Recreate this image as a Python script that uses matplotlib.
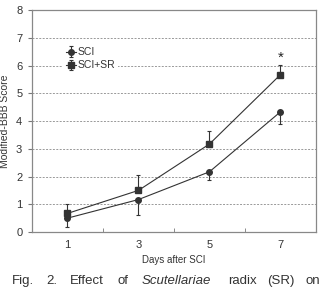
import matplotlib.pyplot as plt

# data
days = ["1", "3", "5", "7"]
sci = [0.50, 1.17, 2.17, 4.33]
sci_err = [0.33, 0.55, 0.30, 0.42]      # drawn downward only
sci_sr = [0.67, 1.50, 3.17, 5.67]
sci_sr_err = [0.33, 0.57, 0.48, 0.35]   # drawn upward only
star_day = 3
star_y = 6.27

caption_words = ["Fig.", "2.", "Effect", "of", "Scutellariae", "radix", "(SR)", "on"]
caption_x = [12, 46, 70, 118, 142, 228, 267, 306]

plt.rcParams["font.family"] = ["Liberation Sans", "DejaVu Sans"]

fig = plt.figure(figsize=(3.25, 2.87), dpi=100)
ax = fig.add_axes([0.0985, 0.1916, 0.8735, 0.7734])

x = list(range(len(days)))
zeros = [0] * len(days)
line_kw = dict(color="#333333", lw=0.8, ecolor="#333333", elinewidth=0.8,
               capsize=1.2, capthick=0.8)
ax.errorbar(x, sci, yerr=[sci_err, zeros], fmt="-o", ms=4, label="SCI", **line_kw)
ax.errorbar(x, sci_sr, yerr=[zeros, sci_sr_err], fmt="-s", ms=4.3, label="SCI+SR", **line_kw)

ax.text(star_day, star_y, "*", ha="center", va="center", fontsize=11, color="#222222")

ax.set_xlim(-0.5, len(days) - 0.5)
ax.set_ylim(0, 8)
ax.set_yticks(range(0, 9))
ax.set_xticks(x)
ax.set_xticklabels(days)
ax.set_xticks([i + 0.5 for i in x[:-1]], minor=True)
ax.tick_params(axis="x", which="major", length=0, pad=6, labelsize=8, labelcolor="#333333")
ax.tick_params(axis="x", which="minor", direction="in", length=3, color="#777777")
ax.tick_params(axis="y", direction="out", length=3, color="#777777", labelsize=8,
               labelcolor="#333333", pad=4)

for y in range(1, 8):
    ax.axhline(y, color="#999999", lw=0.7, ls=(0, (2, 1.5)), zorder=0)
for s in ax.spines.values():
    s.set_color("#888888")
    s.set_linewidth(0.9)

ax.set_xlabel("Days after SCI", fontsize=7, color="#333333", labelpad=3)
ax.set_ylabel("Modified-BBB Score", fontsize=7.5, color="#333333", labelpad=4)

leg = ax.legend(loc="upper left", bbox_to_anchor=(0.09, 0.87), fontsize=7.5,
                handlelength=1.0, handletextpad=0.1, labelspacing=0.3,
                frameon=True, fancybox=False, borderpad=0.3)
leg.get_frame().set_edgecolor("none")
leg.get_frame().set_facecolor("white")
leg.get_frame().set_alpha(1)
for t in leg.get_texts():
    t.set_color("#333333")

for word, xp in zip(caption_words, caption_x):
    style = "italic" if word == "Scutellariae" else "normal"
    fig.text(xp / 325, (287 - 284) / 287, word, fontsize=9.5, style=style,
             color="#333333", ha="left", va="baseline")

fig.savefig("out.png", dpi=100)
